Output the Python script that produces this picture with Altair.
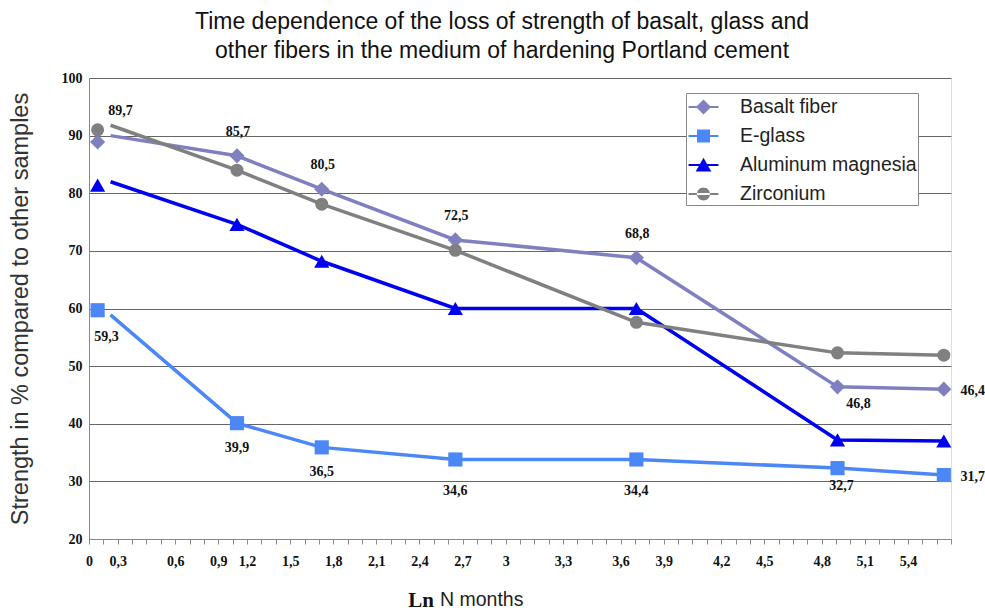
import json
import altair as alt
import pandas as pd

# ---------------- data ----------------
series = ["Basalt fiber", "E-glass", "Aluminum magnesia", "Zirconium"]
colors = ["#8080c0", "#4b87f7", "#0000f0", "#808080"]
shapes = ["diamond", "square", "triangle-up", "circle"]
sizes = [230, 200, 230, 170]

# x positions of the measurement points (axis units)
x_points = [0.06, 1.03, 1.62, 2.55, 3.81, 5.21, 5.95]
x_line_start = 0.15

basalt = [88.9, 86.5, 80.7, 71.9, 68.8, 46.4, 46.0]
eglass = [59.7, 40.1, 35.9, 33.8, 33.8, 32.3, 31.1]
alumina = [81.4, 74.6, 68.2, 60.0, 60.0, 37.2, 37.0]
zirconium = [91.0, 84.0, 78.1, 70.1, 57.6, 52.3, 51.9]
line_start = [90.0, 58.9, 82.0, 91.8]

basalt_labels = ["89,7", "85,7", "80,5", "72,5", "68,8", "46,8", "46,4"]
basalt_places = ["above_right", "above", "above", "above", "above", "right_below", "right"]
eglass_labels = ["59,3", "39,9", "36,5", "34,6", "34,4", "32,7", "31,7"]
eglass_places = ["below_right", "below", "below", "below_far", "below_far", "below_near", "right"]

y_ticks = [20, 30, 40, 50, 60, 70, 80, 90, 100]
x_minor = [round(i / 10, 1) for i in range(61)]
x_tick_labels = ["0", "0,3", "0,6", "0,9", "1,2", "1,5", "1,8", "2,1", "2,4", "2,7",
                 "3", "3,3", "3,6", "3,9", "4,2", "4,5", "4,8", "5,1", "5,4"]
x_tick_label_at = [0, 0.2, 0.6, 0.9, 1.1, 1.4, 1.7, 2.0, 2.3, 2.6,
                   2.9, 3.3, 3.7, 4.0, 4.4, 4.7, 5.1, 5.4, 5.7]

title_lines = ["Time dependence of the loss of strength of basalt, glass and",
               "other fibers in the medium of hardening Portland cement"]
y_title = "Strength in % compared to other samples"

# ---------------- styles ----------------
label_offsets = {
    "above_right": (23, -31),
    "above": (1, -24),
    "below": (0, 25),
    "below_right": (9, 27),
    "below_far": (0, 32),
    "below_near": (4, 18),
    "right_below": (21, 17),
    "right": (29, 2),
}

_bar = "M-0.88,-0.07H1.42V0.07H-0.88Z"
legend_paths = [
    _bar + " M0.27,-0.58L0.85,0L0.27,0.58L-0.31,0Z",
    _bar + " M-0.23,-0.5H0.77V0.5H-0.23Z",
    _bar + " M0.27,-0.55L0.87,0.5H-0.33Z",
    _bar + " M-0.23,0A0.5,0.5 0 1,0 0.77,0A0.5,0.5 0 1,0 -0.23,0Z",
]

W, H = 862, 461

idx = [int(round(v * 10)) for v in x_tick_label_at]
label_expr = (
    f"indexof({json.dumps(idx)}, round(datum.value*10)) < 0 ? '' : "
    f"{json.dumps(x_tick_labels)}[indexof({json.dumps(idx)}, round(datum.value*10))]"
)

x_enc = alt.X(
    "x:Q",
    scale=alt.Scale(domain=[0, 6], nice=False, zero=False),
    axis=alt.Axis(
        values=x_minor, grid=False, ticks=True, tickSize=5, tickColor="#888",
        domainColor="#888", labelExpr=label_expr, labelOverlap=False,
        labelFlush=False, labelFont="Liberation Serif", labelFontWeight="bold",
        labelFontSize=14, labelColor="#111", labelPadding=10, title=None,
    ),
)
y_enc = alt.Y(
    "y:Q",
    scale=alt.Scale(domain=[20, 100], nice=False, zero=False),
    axis=alt.Axis(
        values=y_ticks, grid=True, gridColor="#666", ticks=False,
        domainColor="#888", labelFont="Liberation Serif", labelFontWeight="bold",
        labelFontSize=14, labelColor="#111", labelPadding=7,
        title=y_title, titleFont="Liberation Sans", titleFontSize=23.5,
        titleFontWeight="normal", titleColor="#333", titleAngle=270,
        titleX=-69, titleY=H / 2, titleAlign="center", titleBaseline="middle",
    ),
)

all_values = [basalt, eglass, alumina, zirconium]
layers = []

# lines
for s, vals, c, ls in zip(series, all_values, colors, line_start):
    df = pd.DataFrame({"x": [x_line_start] + x_points[1:], "y": [ls] + vals[1:]})
    layers.append(alt.Chart(df).mark_line(color=c, strokeWidth=3.5).encode(x=x_enc, y=y_enc))

# markers
for s, vals, c, sh, sz in zip(series, all_values, colors, shapes, sizes):
    df = pd.DataFrame({"x": x_points, "y": vals})
    layers.append(
        alt.Chart(df).mark_point(shape=sh, filled=True, size=sz, color=c, opacity=1)
        .encode(x=x_enc, y=y_enc)
    )

# data labels
lab_rows = []
for vals, labs, places in [(basalt, basalt_labels, basalt_places), (eglass, eglass_labels, eglass_places)]:
    for xv, yv, t, p in zip(x_points, vals, labs, places):
        lab_rows.append({"x": xv, "y": yv, "t": t, "place": p})
lab_df = pd.DataFrame(lab_rows)
for place, (dx, dy) in label_offsets.items():
    sub = lab_df[lab_df["place"] == place]
    if len(sub) == 0:
        continue
    layers.append(
        alt.Chart(sub).mark_text(
            font="Liberation Serif", fontWeight="bold", fontSize=14, color="#111",
            dx=dx, dy=dy, align="center", baseline="middle",
        ).encode(x=x_enc, y=y_enc, text="t:N")
    )

# legend (its points sit outside the scale domain and are clipped away)
leg = alt.Legend(
    title=None, orient="none", legendX=597, legendY=15, padding=1,
    fillColor="white", strokeColor="#888", labelFont="Liberation Sans",
    labelFontSize=19.5, labelColor="#222", symbolSize=676, rowPadding=6,
    labelOffset=27, labelLimit=400, symbolStrokeWidth=0, symbolOpacity=1,
)
leg_df = pd.DataFrame({"series": series, "x": [0] * 4, "y": [0] * 4})
layers.append(
    alt.Chart(leg_df).mark_point(filled=True, clip=True, opacity=1, size=676).encode(
        x=x_enc, y=y_enc,
        color=alt.Color("series:N", scale=alt.Scale(domain=series, range=colors), legend=leg, sort=series),
        shape=alt.Shape("series:N", scale=alt.Scale(domain=series, range=legend_paths), legend=leg, sort=series),
    )
)

# x-axis title: "Ln" + "N months"
ln_df = pd.DataFrame({"t": ["Ln"]})
nm_df = pd.DataFrame({"t": ["N months"]})
layers.append(
    alt.Chart(ln_df).mark_text(font="Liberation Serif", fontWeight="bold", fontSize=21,
                               color="#111", align="right", baseline="alphabetic")
    .encode(text="t:N", x=alt.value(345), y=alt.value(529))
)
layers.append(
    alt.Chart(nm_df).mark_text(font="Liberation Sans", fontSize=19.5, color="#222",
                               align="left", baseline="alphabetic")
    .encode(text="t:N", x=alt.value(351), y=alt.value(528))
)

chart = (
    alt.layer(*layers)
    .properties(
        width=W, height=H,
        autosize=alt.AutoSizeParams(type="none"),
        padding={"left": 89, "top": 78, "right": 34, "bottom": 73},
        title=alt.Title(title_lines, font="Liberation Sans", fontSize=23,
                        fontWeight="normal", color="#111", anchor="middle",
                        dx=-18, offset=8, lineHeight=29),
    )
    .configure_view(stroke="#888", strokeWidth=1)
    .configure(background="white")
)

chart.save("out.html", embed_options={"renderer": "svg", "actions": False})
